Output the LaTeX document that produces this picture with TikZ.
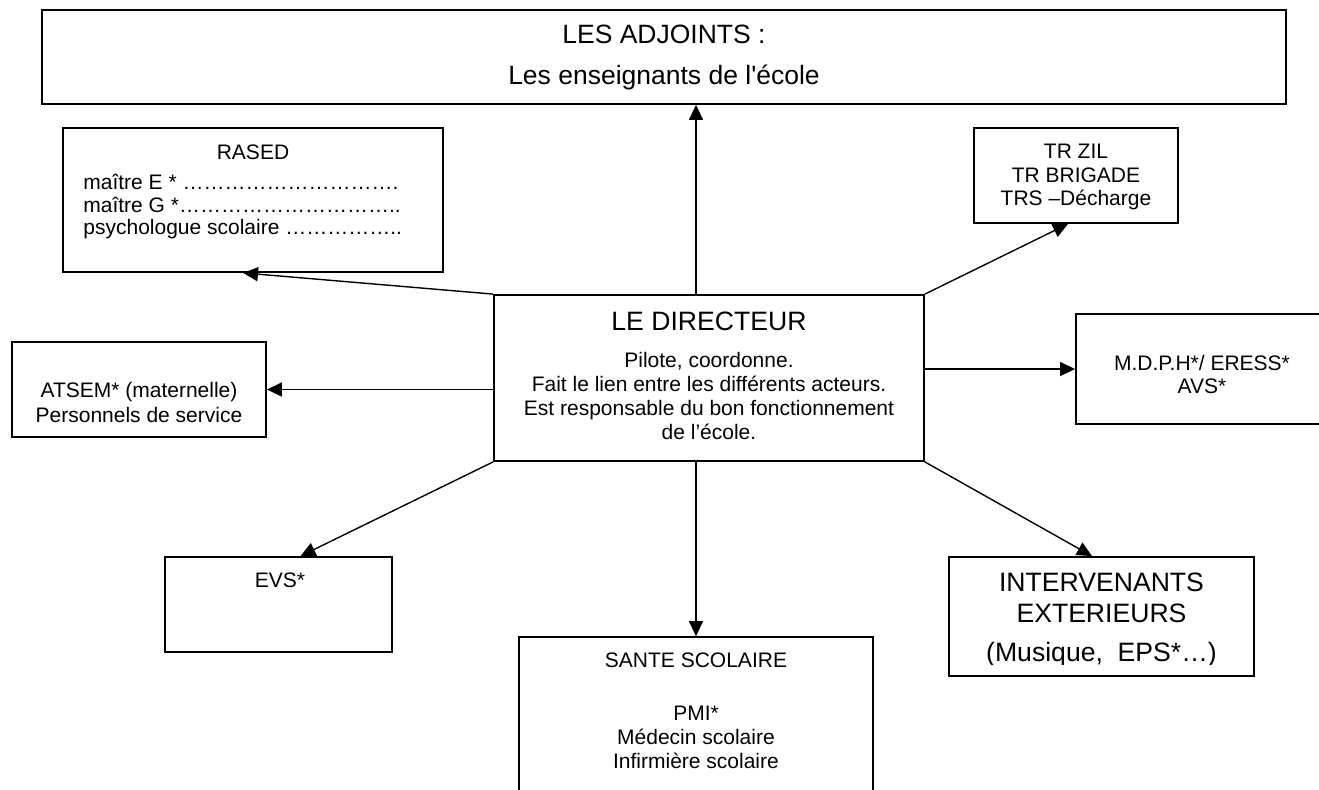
\documentclass[tikz,border=0pt]{standalone}
\usepackage{fontspec}
\usepackage{tikz}
\usetikzlibrary{arrows.meta}
\newfontfamily\arialfont{Liberation Sans}
\newcommand{\smallfont}{\fontsize{10.5}{12}\selectfont\arialfont}
\newcommand{\bigfont}{\fontsize{13.3}{15.5}\selectfont\arialfont}
\newcommand{\dotrun}[1]{\foreach \k in {1,...,#1}{…}}

\begin{document}
\begin{tikzpicture}[x=0.5pt,y=0.5pt]
		\tikzstyle{every node}+=[inner sep=0pt]
		\tikzset{
			box/.style={draw=black, line width=0.9pt, rectangle},
			txt/.style={align=center, anchor=north, font=\smallfont},
			link/.style={draw=black, line width=0.7pt, -{Triangle[length=7.5pt,width=7pt]}}
		}
		\useasboundingbox (0,0) rectangle (1319,-789);
		\clip (0,0) rectangle (1319,-789);
		\node [box, minimum width=622pt, minimum height=47pt, align=center, font=\fontsize{13.25}{20.5}\selectfont\arialfont] (adj) at (664,-57) {LES ADJOINTS :\\Les enseignants de l'école};
		\node [box, minimum width=190pt, minimum height=72pt] (rased) at (253,-200) {};
		\node [box, minimum width=102pt, minimum height=47.5pt] (tr) at (1076,-175.5) {};
		\node [box, minimum width=215pt, minimum height=83pt] (dir) at (709,-378) {};
		\node [box, minimum width=127pt, minimum height=47.5pt] (atsem) at (139,-389.5) {};
		\node [box, minimum width=127pt, minimum height=55pt] (mdph) at (1203,-369) {};
		\node [box, minimum width=113.5pt, minimum height=47.5pt] (evs) at (278.5,-604.5) {};
		\node [box, minimum width=177pt, minimum height=96.5pt] (sante) at (696,-733.5) {};
		\node [box, minimum width=152.5pt, minimum height=59.5pt] (interv) at (1101.5,-616.5) {};
		\node [txt] (rasedtitle) at (253,-144) {RASED};
		\node [txt, align=left, anchor=north west, font=\fontsize{10.5}{11.25}\selectfont\arialfont] (rasedlist) at (83,-174) {maître E * \dotrun{10}.\\maître G *\dotrun{10}..\\psychologue scolaire \dotrun{5}..};
		\node [txt, font=\fontsize{10.5}{11.75}\selectfont\arialfont] (trtxt) at (1076,-144) {TR ZIL\\TR BRIGADE\\TRS –Décharge};
		\node [txt, font=\bigfont] (dirtitle) at (709,-312) {LE DIRECTEUR};
		\node [txt] (dirtxt) at (709,-352) {Pilote, coordonne.\\Fait le lien entre les différents acteurs.\\Est responsable du bon fonctionnement\\de l’école.};
		\node [txt, font=\fontsize{10.5}{12.5}\selectfont\arialfont] (atsemtxt) at (139,-382) {ATSEM* (maternelle)\\Personnels de service};
		\node [txt, font=\fontsize{10.5}{11.5}\selectfont\arialfont] (mdphtxt) at (1202,-355) {M.D.P.H*/ ERESS*\\AVS*};
		\node [txt] (evstxt) at (280,-572) {EVS*};
		\node [txt] (santetxt) at (696,-652) {SANTE SCOLAIRE\\[14.5pt]PMI*\\Médecin scolaire\\Infirmière scolaire};
		\begin{scope}
			\clip (940,-540) rectangle (1260,-664);
			\node [txt, font=\bigfont] (intervtxt) at (1101.5,-573) {INTERVENANTS\\EXTERIEURS\\[4pt](Musique,~ EPS*…)};
		\end{scope}
		\draw [link] ([xshift=-6.5pt]dir.north) -- ([xshift=16pt]adj.south);
		\draw [link] ([xshift=-6.5pt]dir.south) -- (sante.north);
		\draw [link] (dir.north west) -- ([xshift=-5pt]rased.south);
		\draw [link] (dir.north east) -- ([xshift=-4pt]tr.south);
		\draw [link] (atsem.east -| dir.west) -- (atsem.east);
		\draw [link] (mdph.west -| dir.east) -- (mdph.west);
		\draw [link] (dir.south west) -- ([xshift=11pt]evs.north);
		\draw [link] (dir.south east) -- ([xshift=-4.75pt]interv.north);
	\end{tikzpicture}
\end{document}
